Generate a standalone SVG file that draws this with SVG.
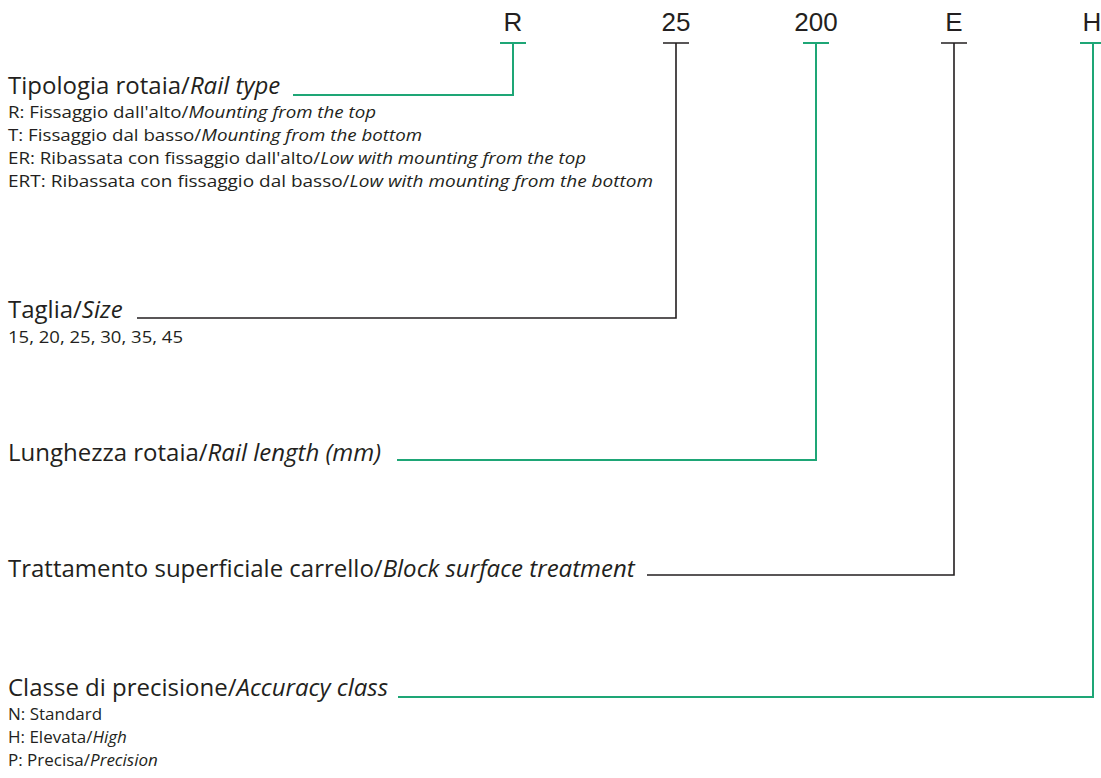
<svg xmlns="http://www.w3.org/2000/svg" width="1101" height="778" viewBox="0 0 1101 778">
<style>
.code{font-family:"Liberation Sans",Arial,sans-serif;font-size:26px;fill:#231f20;text-anchor:middle}
.t{font-family:"Open Sans","Noto Sans",sans-serif;font-size:24px;fill:#231f20}
.s{font-family:"Open Sans","Noto Sans",sans-serif;font-size:17px;fill:#231f20}
.i{font-style:italic}
.g{fill:none;stroke:#1ea676;stroke-width:2}
.k{fill:none;stroke:#231f20;stroke-width:1.6}
</style>
<rect width="1101" height="778" fill="#ffffff"/>
<g id="codes">
<text class="code" x="513" y="31">R</text>
<text class="code" x="676" y="31">25</text>
<text class="code" x="816" y="31">200</text>
<text class="code" x="954" y="31">E</text>
<text class="code" x="1092" y="31">H</text>
</g>
<g id="connectors">
<path class="g" d="M500,43H526M513,43V95H293"/>
<path class="k" d="M663,43H689M676,43V318H137"/>
<path class="g" d="M803,43H829M816,43V460H397"/>
<path class="k" d="M941,43H967M954,43V575H647"/>
<path class="g" d="M1080,43H1106M1093,43V697H398"/>
</g>
<g id="rail-type">
<text class="t" x="8" y="94">Tipologia rotaia/<tspan class="i">Rail type</tspan></text>
<text class="s" x="8" y="118" textLength="368" lengthAdjust="spacingAndGlyphs">R: Fissaggio dall'alto/<tspan class="i">Mounting from the top</tspan></text>
<text class="s" x="8" y="141" textLength="414" lengthAdjust="spacingAndGlyphs">T: Fissaggio dal basso/<tspan class="i">Mounting from the bottom</tspan></text>
<text class="s" x="8" y="164" textLength="578" lengthAdjust="spacingAndGlyphs">ER: Ribassata con fissaggio dall'alto/<tspan class="i">Low with mounting from the top</tspan></text>
<text class="s" x="8" y="187" textLength="645" lengthAdjust="spacingAndGlyphs">ERT: Ribassata con fissaggio dal basso/<tspan class="i">Low with mounting from the bottom</tspan></text>
</g>
<g id="size">
<text class="t" x="8" y="318">Taglia/<tspan class="i">Size</tspan></text>
<text class="s" x="8" y="343" textLength="175" lengthAdjust="spacingAndGlyphs">15, 20, 25, 30, 35, 45</text>
</g>
<g id="rail-length">
<text class="t" x="8" y="461">Lunghezza rotaia/<tspan class="i">Rail length (mm)</tspan></text>
</g>
<g id="surface-treatment">
<text class="t" x="8" y="577">Trattamento superficiale carrello/<tspan class="i">Block surface treatment</tspan></text>
</g>
<g id="accuracy-class">
<text class="t" x="8" y="696">Classe di precisione/<tspan class="i">Accuracy class</tspan></text>
<text class="s" x="8" y="720">N: Standard</text>
<text class="s" x="8" y="743">H: Elevata/<tspan class="i">High</tspan></text>
<text class="s" x="8" y="766">P: Precisa/<tspan class="i">Precision</tspan></text>
</g>
</svg>
